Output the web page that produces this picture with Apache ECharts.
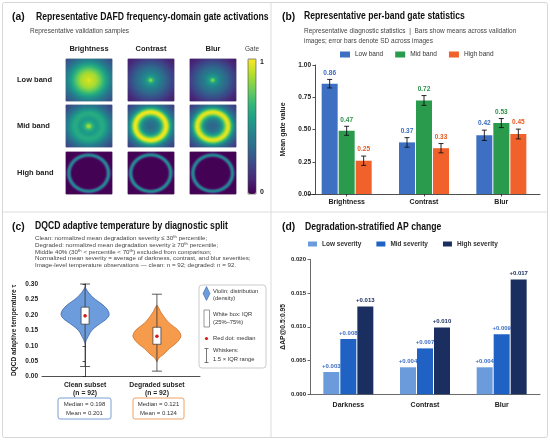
<!DOCTYPE html>
<html>
<head>
<meta charset="utf-8">
<script src="https://cdn.jsdelivr.net/npm/echarts@6/dist/echarts.min.js"></script>
<style>
  html, body { margin: 0; padding: 0; background: #fff; }
  #chart { width: 550px; height: 441px; }
</style>
</head>
<body>
<div id="chart"></div>
<script>
const SANS = "'Liberation Sans',Arial,sans-serif";

// ---- (a) gate maps: radial profiles [r, gate], r = distance from centre / half size
const bandRows = ['Low band', 'Mid band', 'High band'];
const gateCols = ['Brightness', 'Contrast', 'Blur'];
const lowBrightness = [[0, 1.0], [0.06, 0.93], [0.2, 0.9], [0.35, 0.86], [0.5, 0.77], [0.65, 0.66], [0.8, 0.54], [0.95, 0.44], [1.1, 0.36], [1.25, 0.29], [1.42, 0.22]];
const lowContrast = [[0, 0.92], [0.06, 0.78], [0.12, 0.62], [0.2, 0.53], [0.3, 0.47], [0.45, 0.41], [0.6, 0.35], [0.75, 0.29], [0.9, 0.23], [1.05, 0.17], [1.2, 0.12], [1.42, 0.08]];
const lowBlur = [[0, 0.9], [0.06, 0.75], [0.12, 0.6], [0.2, 0.52], [0.3, 0.46], [0.45, 0.4], [0.6, 0.34], [0.75, 0.28], [0.9, 0.22], [1.05, 0.16], [1.2, 0.11], [1.42, 0.07]];
const midBrightness = [[0, 0.9], [0.08, 0.82], [0.16, 0.66], [0.28, 0.56], [0.4, 0.55], [0.52, 0.6], [0.62, 0.62], [0.72, 0.57], [0.85, 0.48], [1.0, 0.38], [1.15, 0.3], [1.3, 0.24], [1.42, 0.2]];
const midContrast = [[0, 0.35], [0.15, 0.37], [0.3, 0.43], [0.42, 0.55], [0.52, 0.75], [0.6, 0.93], [0.67, 1.0], [0.74, 0.93], [0.82, 0.7], [0.92, 0.5], [1.02, 0.38], [1.15, 0.3], [1.3, 0.22], [1.42, 0.17]];
const midBlur = [[0, 0.33], [0.15, 0.35], [0.3, 0.42], [0.42, 0.55], [0.52, 0.75], [0.6, 0.92], [0.67, 0.98], [0.74, 0.9], [0.82, 0.68], [0.92, 0.48], [1.02, 0.36], [1.15, 0.28], [1.3, 0.2], [1.42, 0.15]];
const highBrightness = [[0, 0.01], [0.72, 0.01], [0.77, 0.12], [0.82, 0.42], [0.86, 0.52], [0.9, 0.42], [0.95, 0.12], [1.0, 0.01], [1.42, 0.01]];
const highContrast = [[0, 0.01], [0.73, 0.01], [0.78, 0.12], [0.83, 0.44], [0.87, 0.54], [0.91, 0.44], [0.96, 0.12], [1.01, 0.01], [1.42, 0.01]];
const highBlur = [[0, 0.01], [0.72, 0.01], [0.77, 0.12], [0.82, 0.42], [0.86, 0.52], [0.9, 0.42], [0.95, 0.12], [1.0, 0.01], [1.42, 0.01]];

// ---- (b) per-band gate statistics
const bandCats = ['Brightness', 'Contrast', 'Blur'];
const lowBandMean = [0.855, 0.40, 0.455];
const midBandMean = [0.49, 0.725, 0.55];
const highBandMean = [0.258, 0.355, 0.465];
const lowBandSD = [0.033, 0.037, 0.04];
const midBandSD = [0.035, 0.038, 0.035];
const highBandSD = [0.036, 0.036, 0.038];
const lowBandLabel = ['0.86', '0.37', '0.42'];
const midBandLabel = ['0.47', '0.72', '0.53'];
const highBandLabel = ['0.25', '0.33', '0.45'];

// ---- (c) DQCD temperature violins: [tau, relative density]
const subsetNames = ['Clean subset', 'Degraded subset'];
const subsetN = [92, 92];
const subsetMedian = [0.198, 0.121];
const subsetMean = [0.201, 0.124];
const cleanDensity = [[0.108, 0], [0.12, 0.06], [0.135, 0.16], [0.15, 0.28], [0.165, 0.5], [0.18, 0.78], [0.19, 0.93], [0.2, 1.0], [0.21, 0.98], [0.222, 0.88], [0.235, 0.7], [0.25, 0.43], [0.265, 0.22], [0.278, 0.09], [0.29, 0]];
const degradedDensity = [[0.048, 0], [0.06, 0.08], [0.07, 0.24], [0.08, 0.38], [0.092, 0.53], [0.103, 0.72], [0.114, 0.87], [0.125, 0.97], [0.133, 1.0], [0.145, 0.94], [0.157, 0.79], [0.168, 0.6], [0.179, 0.45], [0.19, 0.33], [0.2, 0.24], [0.212, 0.14], [0.222, 0.08], [0.232, 0]];
const subsetWhisker = [[0.033, 0.30], [0.018, 0.267]];
const subsetIQR = [[0.17, 0.225], [0.105, 0.16]];
const subsetDot = [0.197, 0.131];

// ---- (d) AP change
const apCats = ['Darkness', 'Contrast', 'Blur'];
const apLow = [0.0033, 0.0040, 0.0040];
const apMid = [0.0082, 0.0068, 0.0089];
const apHigh = [0.0130, 0.0099, 0.0170];

// ---- styling
const VIRIDIS = ['#440154', '#482878', '#3e4989', '#31688e', '#26828e', '#1f9e89', '#35b779', '#6ece58', '#b5de2b', '#fde725'];
const BAND_COLORS = ['#3d70c2', '#2a9a4c', '#f0612b'];
const BAND_TEXT = ['#3a6cbf', '#2a9045', '#e85a22'];
const SEV_COLORS = ['#6c9bdc', '#1f62c4', '#1a2f60'];
const SEV_TEXT = ['#3a6cc4', '#3a6cc4', '#1a2f60'];
const VIOLIN_FILL = ['#6d9cdc', '#f69a4b'];
const VIOLIN_EDGE = ['#3c66a8', '#c8702a'];
const BOX_EDGE = ['#5a85c8', '#ec8a3e'];
const BAR_W = 16, BAR_GAP = 1;
const VIOLIN_HALF = 24;

const MAP_LEFT = [66, 128, 190], MAP_TOP = [59, 105, 152], MAP_W = 46, MAP_H = 42;
const NX = 46, NY = 42;
const PIX_X = Array.from({ length: NX }, (_, i) => i);
const PIX_Y = Array.from({ length: NY }, (_, i) => i);

function gateAt(profile, r) {
  for (let k = 1; k < profile.length; k++) {
    if (r <= profile[k][0]) {
      const [r0, v0] = profile[k - 1], [r1, v1] = profile[k];
      return v0 + (v1 - v0) * (r - r0) / (r1 - r0);
    }
  }
  return profile[profile.length - 1][1];
}

function gateMap(profile) {
  const out = [];
  for (let i = 0; i < NX; i++) {
    for (let j = 0; j < NY; j++) {
      const dx = (i + 0.5) / NX * 2 - 1, dy = (j + 0.5) / NY * 2 - 1;
      out.push([i, j, gateAt(profile, Math.sqrt(dx * dx + dy * dy))]);
    }
  }
  return out;
}

const gateProfiles = [
  [lowBrightness, lowContrast, lowBlur],
  [midBrightness, midContrast, midBlur],
  [highBrightness, highContrast, highBlur]
];

function txt(x, y, text, size, o) {
  o = o || {};
  return {
    type: 'text', silent: true, z: 10, x, y, scaleX: o.sx || 1, scaleY: 1,
    style: {
      text, x: 0, y: 0,
      fontSize: size, fontFamily: SANS, fontWeight: o.weight || 'normal',
      fill: o.color || '#222',
      align: o.align || 'left', textAlign: o.align || 'left',
      verticalAlign: 'middle', textVerticalAlign: 'middle'
    }
  };
}

const grids = [], xAxes = [], yAxes = [], series = [];

for (let r = 0; r < 3; r++) {
  for (let c = 0; c < 3; c++) {
    const k = r * 3 + c;
    grids.push({ left: MAP_LEFT[c], top: MAP_TOP[r], width: MAP_W, height: MAP_H, show: true, backgroundColor: '#2a0a4a', borderColor: '#bbb', borderWidth: 0.6 });
    xAxes.push({ type: 'category', gridIndex: k, data: PIX_X, show: false });
    yAxes.push({ type: 'category', gridIndex: k, data: PIX_Y, show: false });
    series.push({
      type: 'heatmap', xAxisIndex: k, yAxisIndex: k, data: gateMap(gateProfiles[r][c]), silent: true, progressive: 0,
      itemStyle: { borderWidth: 0, borderRadius: 0, borderColor: 'transparent', opacity: 1 }, emphasis: { disabled: true }
    });
  }
}

const axisLabelStyle = { fontSize: 6.5, fontWeight: 'bold', color: '#222', fontFamily: SANS };
const axisLine = { show: true, lineStyle: { color: '#222', width: 0.8 } };

// (b) grid 9
grids.push({ left: 308, top: 65, width: 232, height: 129 });
xAxes.push({ type: 'category', gridIndex: 9, data: bandCats, axisLine, axisTick: { show: true, alignWithLabel: true, length: 2.5, lineStyle: { color: '#222', width: 0.8 } }, axisLabel: { fontSize: 7, fontWeight: 'bold', color: '#222', fontFamily: SANS, margin: 5 } });
yAxes.push({ type: 'value', gridIndex: 9, min: 0, max: 1, interval: 0.25, offset: -7, axisLine, axisTick: { show: true, length: 2.5, lineStyle: { color: '#222', width: 0.8 } }, splitLine: { show: false }, axisLabel: Object.assign({ formatter: v => v.toFixed(2), margin: 4 }, axisLabelStyle), name: 'Mean gate value', nameLocation: 'middle', nameRotate: 90, nameGap: 28, nameTextStyle: { fontSize: 7, fontWeight: 'bold', color: '#222', fontFamily: SANS } });

// (c) grid 10
grids.push({ left: 42, top: 284, width: 158, height: 92.7 });
xAxes.push({ type: 'value', gridIndex: 10, min: -0.6, max: 1.6, axisLine, axisTick: { show: false }, splitLine: { show: false }, axisLabel: { customValues: [0, 1], margin: 4, formatter: v => '{b|' + subsetNames[Math.round(v)] + '}\n{b|(n = ' + subsetN[Math.round(v)] + ')}', rich: { b: { fontSize: 6.8, fontWeight: 'bold', color: '#222', fontFamily: SANS, lineHeight: 8.5 } } } });
yAxes.push({ type: 'value', gridIndex: 10, min: 0, max: 0.3, interval: 0.05, axisLine, axisTick: { show: true, length: 2.5, lineStyle: { color: '#222', width: 0.8 } }, splitLine: { show: false }, axisLabel: Object.assign({ formatter: v => v.toFixed(2), margin: 4 }, axisLabelStyle), name: 'DQCD adaptive temperature τ', nameLocation: 'middle', nameRotate: 90, nameGap: 24, nameTextStyle: { fontSize: 6.5, fontWeight: 'bold', color: '#222', fontFamily: SANS } });

// (d) grid 11
grids.push({ left: 310, top: 259.3, width: 230, height: 135 });
xAxes.push({ type: 'category', gridIndex: 11, data: apCats, axisLine: { show: true, lineStyle: { color: '#444', width: 0.8 } }, axisTick: { show: false }, axisLabel: { fontSize: 7, fontWeight: 'bold', color: '#222', fontFamily: SANS, margin: 7 } });
yAxes.push({ type: 'value', gridIndex: 11, min: 0, max: 0.02, interval: 0.005, axisLine: { show: true, lineStyle: { color: '#444', width: 0.8 } }, axisTick: { show: true, length: 2.5, lineStyle: { color: '#444', width: 0.8 } }, splitLine: { show: false }, axisLabel: Object.assign({ formatter: v => v.toFixed(3), margin: 4 }, axisLabelStyle, { fontSize: 6 }), name: 'ΔAP@0.5:0.95', nameLocation: 'middle', nameRotate: 90, nameGap: 23, nameTextStyle: { fontSize: 6.8, fontWeight: 'bold', color: '#222', fontFamily: SANS } });

// (b) bars
const bandMeans = [lowBandMean, midBandMean, highBandMean];
const bandSDs = [lowBandSD, midBandSD, highBandSD];
const bandLabels = [lowBandLabel, midBandLabel, highBandLabel];
['Low band', 'Mid band', 'High band'].forEach((name, s) => {
  series.push({ type: 'bar', name, xAxisIndex: 9, yAxisIndex: 9, data: bandMeans[s], barWidth: BAR_W, barGap: (BAR_GAP / BAR_W * 100) + '%', itemStyle: { color: BAND_COLORS[s] }, silent: true });
});
series.push({
  type: 'custom', xAxisIndex: 9, yAxisIndex: 9, z: 5, silent: true,
  data: bandCats.flatMap((c, g) => [0, 1, 2].map(s => [g, bandMeans[s][g]])),
  renderItem(params, api) {
    const d = params.dataIndex, g = Math.floor(d / 3), s = d % 3;
    const mean = bandMeans[s][g], sd = bandSDs[s][g];
    const x = api.coord([g, mean])[0] + (s - 1) * (BAR_W + BAR_GAP);
    const yT = api.coord([g, mean + sd])[1], yB = api.coord([g, mean - sd])[1];
    const ls = { stroke: '#111', lineWidth: 0.9 };
    return {
      type: 'group', children: [
        { type: 'line', shape: { x1: x, y1: yT, x2: x, y2: yB }, style: ls },
        { type: 'line', shape: { x1: x - 2.5, y1: yT, x2: x + 2.5, y2: yT }, style: ls },
        { type: 'line', shape: { x1: x - 2.5, y1: yB, x2: x + 2.5, y2: yB }, style: ls },
        { type: 'text', style: { text: bandLabels[s][g], x, y: yT - 6.5, align: 'center', textAlign: 'center', verticalAlign: 'middle', textVerticalAlign: 'middle', fill: BAND_TEXT[s], fontSize: 6.5, fontWeight: 'bold', fontFamily: SANS } }
      ]
    };
  }
});

// (c) violins
const subsetDensity = [cleanDensity, degradedDensity];
series.push({
  type: 'custom', xAxisIndex: 10, yAxisIndex: 10, silent: true,
  data: subsetDot.map((v, i) => [i, v]),
  renderItem(params, api) {
    const i = params.dataIndex;
    const cx = api.coord([i, 0])[0];
    const yOf = v => api.coord([i, v])[1];
    const dens = subsetDensity[i];
    const pts = dens.map(([v, w]) => [cx - w * VIOLIN_HALF, yOf(v)]);
    for (let k = dens.length - 1; k >= 0; k--) pts.push([cx + dens[k][1] * VIOLIN_HALF, yOf(dens[k][0])]);
    const [wLo, wHi] = subsetWhisker[i], [q1, q3] = subsetIQR[i];
    const ls = { stroke: '#333', lineWidth: 0.8 };
    return {
      type: 'group', children: [
        { type: 'polygon', shape: { points: pts, smooth: 0.35 }, style: { fill: VIOLIN_FILL[i], stroke: VIOLIN_EDGE[i], lineWidth: 0.8 } },
        { type: 'line', shape: { x1: cx, y1: yOf(wLo), x2: cx, y2: yOf(wHi) }, style: ls },
        { type: 'line', shape: { x1: cx - 5, y1: yOf(wLo), x2: cx + 5, y2: yOf(wLo) }, style: ls },
        { type: 'line', shape: { x1: cx - 5, y1: yOf(wHi), x2: cx + 5, y2: yOf(wHi) }, style: ls },
        { type: 'rect', shape: { x: cx - 4, y: yOf(q3), width: 8, height: yOf(q1) - yOf(q3) }, style: { fill: '#fff', stroke: '#333', lineWidth: 0.7 } },
        { type: 'circle', shape: { cx, cy: yOf(subsetDot[i]), r: 1.8 }, style: { fill: '#d7191c' } }
      ]
    };
  }
});

// (d) bars
const apSeries = [apLow, apMid, apHigh];
['Low severity', 'Mid severity', 'High severity'].forEach((name, s) => {
  series.push({
    type: 'bar', name, xAxisIndex: 11, yAxisIndex: 11, data: apSeries[s], barWidth: BAR_W, barGap: (BAR_GAP / BAR_W * 100) + '%',
    itemStyle: { color: SEV_COLORS[s] }, silent: true,
    label: { show: true, position: 'top', distance: 3, formatter: p => '+' + p.value.toFixed(3), color: SEV_TEXT[s], fontSize: 6, fontWeight: 'bold', fontFamily: SANS }
  });
});

// graphic: frames, titles, annotations
const G = [];
G.push({ type: 'rect', silent: true, shape: { x: 2.5, y: 2.5, width: 545, height: 435, r: 2 }, style: { fill: 'none', stroke: '#d6d6d6', lineWidth: 1 } });
G.push({ type: 'line', silent: true, shape: { x1: 271, y1: 2.5, x2: 271, y2: 437.5 }, style: { stroke: '#dcdcdc', lineWidth: 1 } });
G.push({ type: 'line', silent: true, shape: { x1: 2.5, y1: 212, x2: 547.5, y2: 212 }, style: { stroke: '#dcdcdc', lineWidth: 1 } });

const T = { weight: 'bold', color: '#111', sx: 0.82 };
const P = { weight: 'bold', color: '#111', sx: 0.9 };
G.push(txt(12, 17, '(a)', 11.5, P), txt(36, 17, 'Representative DAFD frequency-domain gate activations', 10.5, T));
G.push(txt(282, 16.5, '(b)', 11.5, P), txt(304, 16.5, 'Representative per-band gate statistics', 10.5, T));
G.push(txt(12, 226.5, '(c)', 11.5, P), txt(35, 226.5, 'DQCD adaptive temperature by diagnostic split', 10.5, T));
G.push(txt(282, 227, '(d)', 11.5, P), txt(305, 227, 'Degradation-stratified AP change', 10.5, T));

// (a) annotations
G.push(txt(30, 31.5, 'Representative validation samples', 6.5, { color: '#444' }));
gateCols.forEach((c, i) => G.push(txt(MAP_LEFT[i] + MAP_W / 2, 49, c, 7.5, { weight: 'bold', align: 'center' })));
bandRows.forEach((r, i) => G.push(txt(17, MAP_TOP[i] + MAP_H / 2, r, 7.5, { weight: 'bold' })));
G.push(txt(252, 49, 'Gate', 6.5, { color: '#444', align: 'center' }));
G.push(txt(260, 62, '1', 7, { weight: 'bold' }), txt(260, 192, '0', 7, { weight: 'bold' }));
G.push({ type: 'rect', silent: true, z: 10, shape: { x: 248, y: 59, width: 8, height: 135 }, style: { fill: 'none', stroke: '#444', lineWidth: 0.6 } });

// (b) subtitle
G.push(txt(304, 31, 'Representative diagnostic statistics  |  Bars show means across validation', 6.5, { color: '#444' }));
G.push(txt(304, 41, 'images; error bars denote SD across images', 6.5, { color: '#444' }));

// (c) subtitle
['Clean: normalized mean degradation severity ≤ 30ᵗʰ percentile;',
 'Degraded: normalized mean degradation severity ≥ 70ᵗʰ percentile;',
 'Middle 40% (30ᵗʰ < percentile < 70ᵗʰ) excluded from comparison;',
 'Normalized mean severity = average of darkness, contrast, and blur severities;',
 'Image-level temperature observations — clean: n = 92; degraded: n = 92.'
].forEach((line, i) => G.push(txt(35, 238.5 + i * 6.7, line, 6.2, { color: '#444' })));

// (c) stats boxes
const boxX = [58, 133], boxW = [53, 51];
[0, 1].forEach(i => {
  G.push({ type: 'rect', silent: true, shape: { x: boxX[i], y: 398, width: boxW[i], height: 21, r: 2 }, style: { fill: '#fff', stroke: BOX_EDGE[i], lineWidth: 0.8 } });
  G.push(txt(boxX[i] + boxW[i] / 2, 404, 'Median = ' + subsetMedian[i].toFixed(3), 6, { align: 'center', color: '#333' }));
  G.push(txt(boxX[i] + boxW[i] / 2, 413, 'Mean = ' + subsetMean[i].toFixed(3), 6, { align: 'center', color: '#333' }));
});

// (c) legend box
G.push({ type: 'rect', silent: true, shape: { x: 199, y: 285, width: 67, height: 83, r: 3 }, style: { fill: '#fff', stroke: '#aaa', lineWidth: 0.6 } });
G.push({ type: 'polygon', silent: true, z: 10, shape: { points: [[206.5, 286.5], [210, 293.5], [206.5, 300.5], [203, 293.5]] }, style: { fill: VIOLIN_FILL[0], stroke: VIOLIN_EDGE[0], lineWidth: 0.6 } });
G.push(txt(213, 291, 'Violin: distribution', 5.8, { color: '#333' }), txt(213, 298.5, '(density)', 5.8, { color: '#333' }));
G.push({ type: 'rect', silent: true, z: 10, shape: { x: 204, y: 310, width: 5.5, height: 17 }, style: { fill: '#fff', stroke: '#555', lineWidth: 0.6 } });
G.push(txt(213, 314.5, 'White box: IQR', 5.8, { color: '#333' }), txt(213, 322.5, '(25%–75%)', 5.8, { color: '#333' }));
G.push({ type: 'circle', silent: true, z: 10, shape: { cx: 206.5, cy: 338.5, r: 1.6 }, style: { fill: '#d7191c' } });
G.push(txt(213, 338.5, 'Red dot: median', 5.8, { color: '#333' }));
const wl = { stroke: '#555', lineWidth: 0.8 };
G.push({ type: 'line', silent: true, z: 10, shape: { x1: 206.5, y1: 348.5, x2: 206.5, y2: 362.5 }, style: wl });
G.push({ type: 'line', silent: true, z: 10, shape: { x1: 204.5, y1: 348.5, x2: 208.5, y2: 348.5 }, style: wl });
G.push({ type: 'line', silent: true, z: 10, shape: { x1: 204.5, y1: 362.5, x2: 208.5, y2: 362.5 }, style: wl });
G.push(txt(213, 350.5, 'Whiskers:', 5.8, { color: '#333' }), txt(213, 359.5, '1.5 × IQR range', 5.8, { color: '#333' }));

const option = {
  animation: false,
  backgroundColor: '#fff',
  textStyle: { fontFamily: SANS },
  grid: grids,
  xAxis: xAxes,
  yAxis: yAxes,
  visualMap: {
    type: 'continuous', min: 0, max: 1, seriesIndex: [0, 1, 2, 3, 4, 5, 6, 7, 8],
    inRange: { color: VIRIDIS, opacity: 1 }, orient: 'vertical', left: 248, top: 59,
    itemWidth: 8, itemHeight: 135, calculable: false, padding: 0, hoverLink: false
  },
  legend: [
    { data: ['Low band', 'Mid band', 'High band'], left: 340, top: 51, itemWidth: 10, itemHeight: 6, itemGap: 12, icon: 'rect', padding: 0, selectedMode: false, textStyle: { fontSize: 6.5, color: '#333', fontFamily: SANS } },
    { data: ['Low severity', 'Mid severity', 'High severity'], left: 308, top: 240.5, itemWidth: 9, itemHeight: 5, itemGap: 15, icon: 'rect', padding: 0, selectedMode: false, textStyle: { fontSize: 6.5, fontWeight: 'bold', color: '#333', fontFamily: SANS } }
  ],
  graphic: G,
  series
};

const chart = echarts.init(document.getElementById('chart'));
chart.setOption(option);
</script>
</body>
</html>
